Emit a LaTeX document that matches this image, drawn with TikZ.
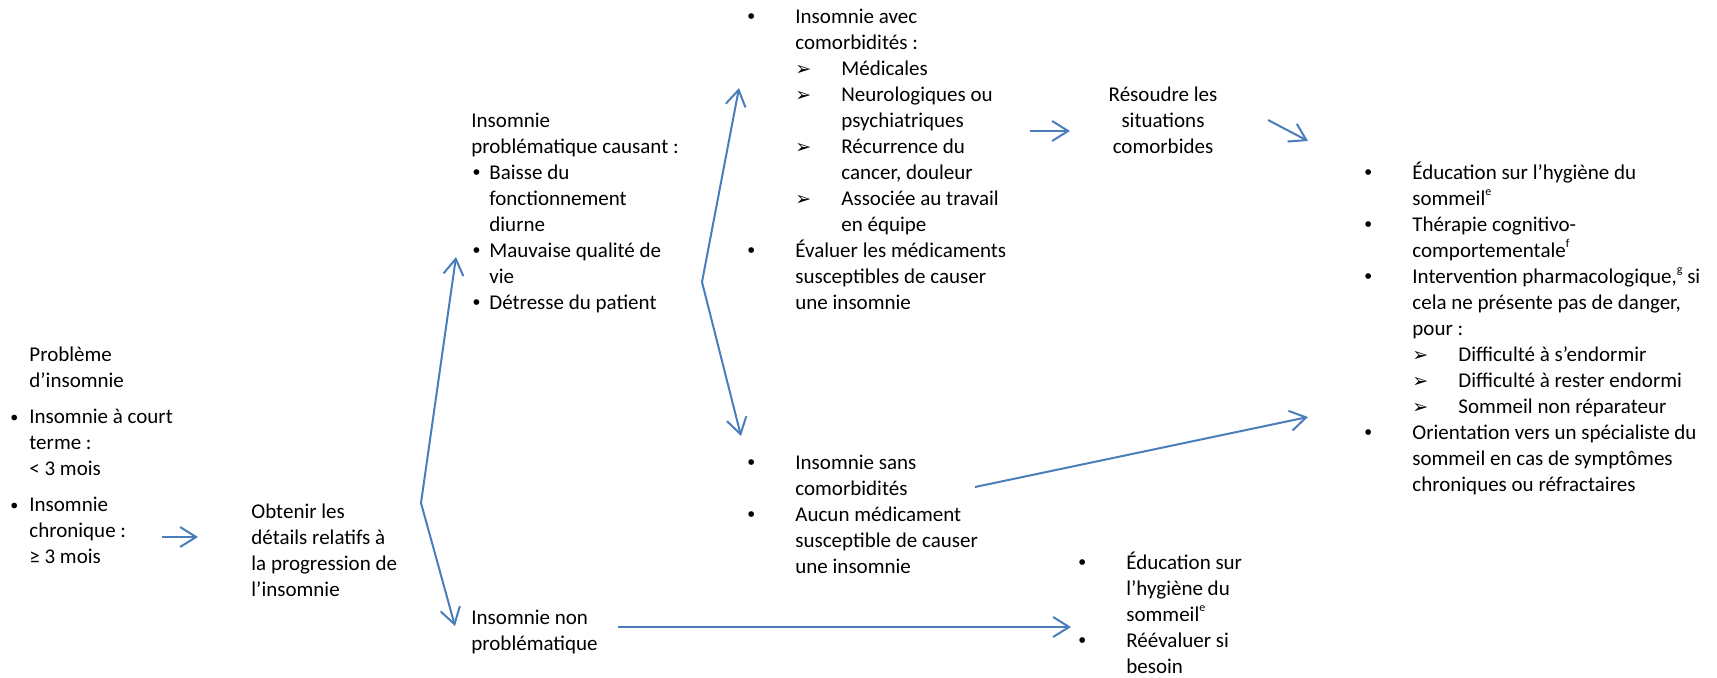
\documentclass[tikz,border=0pt]{standalone}
\usepackage{fontspec}
\setmainfont{Carlito}
\newfontfamily\bulfont{Liberation Sans}
\newfontfamily\dingfont{DejaVu Sans}
\usetikzlibrary{arrows.meta}

\definecolor{flowblue}{RGB}{74,126,187}
\newcommand\diagfont{\fontsize{10.5}{13}\selectfont}
\newcommand\smallbul{\llap{\raisebox{0.5pt}{\fontsize{8}{13}\selectfont\textbullet}\hspace{5.5pt}}}
\newcommand\bigbul[1]{\llap{{\bulfont\textbullet}\hspace{#1}}}
\newcommand\subarrow{\makebox[23pt][l]{\dingfont\fontsize{9.5}{13}\selectfont ➢}}
\newcommand\subindent{\hspace*{23pt}}
\newcommand\supnote[1]{\raisebox{0.5em}{\fontsize{6}{6}\selectfont #1}}

\begin{document}
\begin{tikzpicture}[x=0.5pt, y=-0.5pt, font=\diagfont,
    txt/.style={anchor=north west, align=left, inner sep=0pt},
    flow/.style={draw=flowblue, line width=1pt, -{Straight Barb[length=8pt, width=10pt]}}]
  \useasboundingbox (0,0) rectangle (1717,678);

  % text blocks
  \node[txt] (probleme) at (29,343.3) {\strut Problème\\ d’insomnie\\[5pt]
    \smallbul Insomnie à court\\ terme :\\ < 3 mois\\[5pt]
    \smallbul Insomnie\\ chronique :\\ ≥ 3 mois};
  \node[txt] (obtenir) at (251,500.3) {\strut Obtenir les\\ détails relatifs à\\ la progression de\\ l’insomnie};
  \node[txt] (probl) at (471,109.3) {\strut Insomnie\\ problématique causant :\\
    \hspace*{9pt}\bigbul{4.6pt}Baisse du\\ \hspace*{9pt}fonctionnement\\ \hspace*{9pt}diurne\\
    \hspace*{9pt}\bigbul{4.6pt}Mauvaise qualité de\\ \hspace*{9pt}vie\\
    \hspace*{9pt}\bigbul{4.6pt}Détresse du patient};
  \node[txt] (nonprob) at (471,606.3) {\strut Insomnie non\\ problématique};
  \node[txt] (avec) at (795,5.3) {\strut\bigbul{20.2pt}Insomnie avec\\ comorbidités :\\
    \subarrow Médicales\\
    \subarrow Neurologiques ou\\ \subindent psychiatriques\\
    \subarrow Récurrence du\\ \subindent cancer, douleur\\
    \subarrow Associée au travail\\ \subindent en équipe\\
    \bigbul{20.2pt}Évaluer les médicaments\\ susceptibles de causer\\ une insomnie};
  \node[txt] (sans) at (795,451.3) {\strut\bigbul{20.2pt}Insomnie sans\\ comorbidités\\
    \bigbul{20.2pt}Aucun médicament\\ susceptible de causer\\ une insomnie};
  \node[txt, anchor=north, align=center] (resoudre) at (1163,83.3) {\strut Résoudre les\\ situations\\ comorbides};
  \node[txt] (traitement) at (1412,161.3) {\strut\bigbul{20.2pt}Éducation sur l’hygiène du\\ sommeil\supnote{e}\\
    \bigbul{20.2pt}Thérapie cognitivo-\\ comportementale\supnote{f}\\
    \bigbul{20.2pt}Intervention pharmacologique,\supnote{g} si\\ cela ne présente pas de danger,\\ pour :\\
    \subarrow Difficulté à s’endormir\\
    \subarrow Difficulté à rester endormi\\
    \subarrow Sommeil non réparateur\\
    \bigbul{20.2pt}Orientation vers un spécialiste du\\ sommeil en cas de symptômes\\ chroniques ou réfractaires};
  \node[txt] (education) at (1126,551.3) {\strut\bigbul{20.2pt}Éducation sur\\ l’hygiène du\\ sommeil\supnote{e}\\
    \bigbul{20.2pt}Réévaluer si\\ besoin};

  % arrow ends
  \coordinate (probleme-out) at (162,537);
  \coordinate (obtenir-in) at (198,537);
  \coordinate (split1) at (421,503);
  \coordinate (probl-in) at (456,257);
  \coordinate (nonprob-in) at (455,626);
  \coordinate (split2) at (702,282);
  \coordinate (avec-in) at (739,88);
  \coordinate (sans-in) at (741,436);
  \coordinate (avec-out) at (1030,131);
  \coordinate (resoudre-in) at (1070,131);
  \coordinate (resoudre-out) at (1268,120);
  \coordinate (traitement-in) at (1308,141);
  \coordinate (sans-out) at (975,487);
  \coordinate (traitement-in2) at (1308,417);
  \coordinate (nonprob-out) at (618,627);
  \coordinate (education-in) at (1071,627);

  \draw[flow] (probleme-out) -- (obtenir-in);
  \draw[flow] (split1) -- (probl-in);
  \draw[flow] (split1) -- (nonprob-in);
  \draw[flow] (split2) -- (avec-in);
  \draw[flow] (split2) -- (sans-in);
  \draw[flow] (avec-out) -- (resoudre-in);
  \draw[flow] (resoudre-out) -- (traitement-in);
  \draw[flow] (sans-out) -- (traitement-in2);
  \draw[flow] (nonprob-out) -- (education-in);
\end{tikzpicture}
\end{document}
